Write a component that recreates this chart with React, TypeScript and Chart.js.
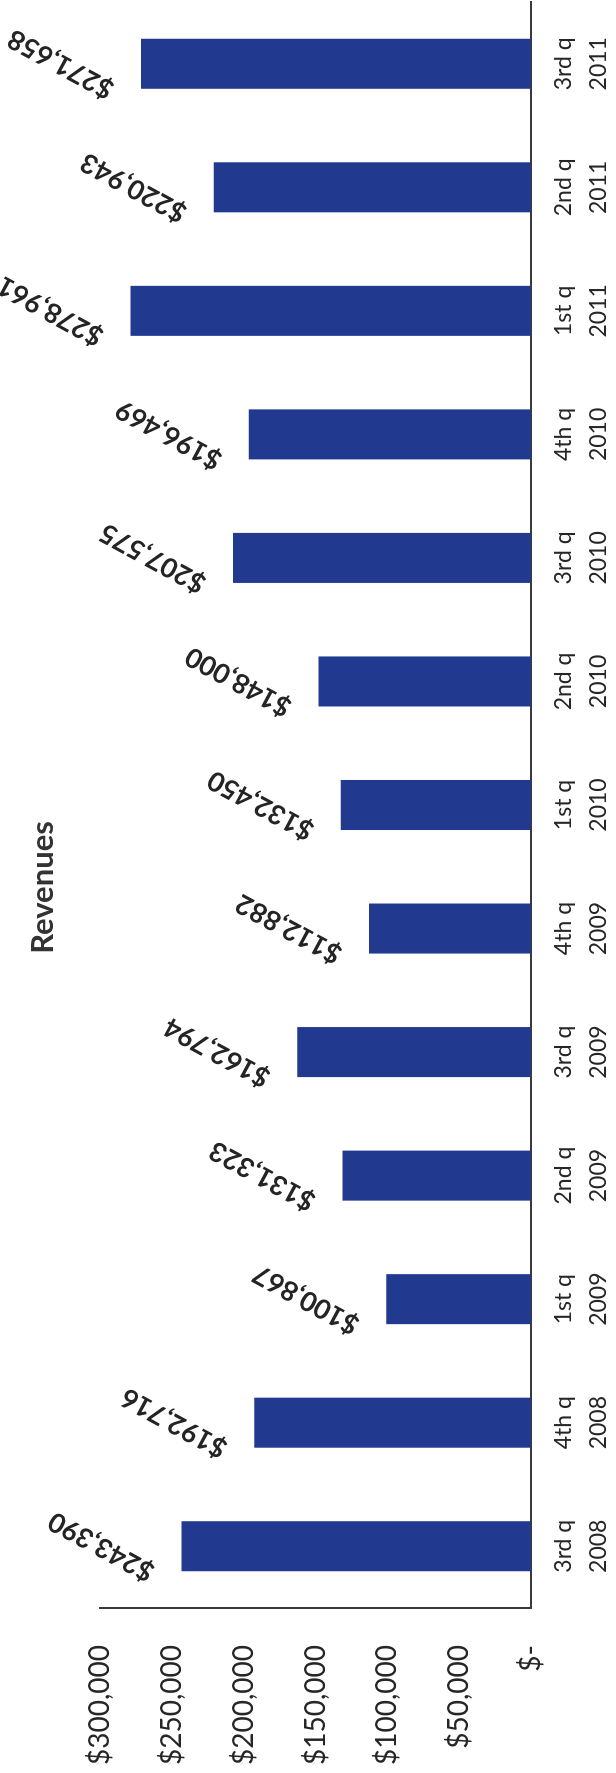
import React, { useEffect, useRef } from 'react';
import { Chart, registerables } from 'chart.js';

Chart.register(...registerables);

const chartTitle = 'Revenues';
const quarters = ['3rd q', '4th q', '1st q', '2nd q', '3rd q', '4th q', '1st q', '2nd q', '3rd q', '4th q', '1st q', '2nd q', '3rd q'];
const years = ['2008', '2008', '2009', '2009', '2009', '2009', '2010', '2010', '2010', '2010', '2011', '2011', '2011'];
const revenues = [243390, 192716, 100867, 131323, 162794, 112882, 132450, 148000, 207575, 196469, 278961, 220943, 271658];
const valueTicks = [0, 50000, 100000, 150000, 200000, 250000, 300000];

const W = 1773;
const H = 616;
const FONT = 'Lato, "Open Sans", sans-serif';

function fmt(v: number): string {
  return v === 0 ? '$-' : '$' + v.toLocaleString('en-US');
}

const dataLabelPlugin = {
  id: 'dataLabelPlugin',
  afterDatasetsDraw(chart: any) {
    const ctx = chart.ctx;
    const meta = chart.getDatasetMeta(0);
    const values = chart.data.datasets[0].data as number[];
    ctx.save();
    ctx.font = `bold 27px ${FONT}`;
    ctx.fillStyle = '#242424';
    ctx.textAlign = 'center';
    ctx.textBaseline = 'middle';
    meta.data.forEach((el: any, i: number) => {
      ctx.save();
      ctx.translate(el.x, el.y - 80);
      ctx.rotate((-61.5 * Math.PI) / 180);
      ctx.fillText(fmt(values[i]), 0, 0);
      ctx.restore();
    });
    ctx.restore();
  },
};

export default function App() {
  const ref = useRef<HTMLCanvasElement>(null);

  useEffect(() => {
    if (!ref.current) return;
    const chart = new Chart(ref.current, {
      type: 'bar',
      data: {
        labels: quarters.map((q, i) => [q, years[i]]),
        datasets: [
          {
            data: revenues,
            backgroundColor: '#213a8f',
            borderWidth: 0,
            barPercentage: 0.405,
            categoryPercentage: 1,
          },
        ],
      },
      options: {
        responsive: false,
        maintainAspectRatio: false,
        animation: false,
        devicePixelRatio: 1,
        layout: { padding: { top: 0, right: 2, bottom: 0, left: 0 } },
        plugins: {
          legend: { display: false },
          tooltip: { enabled: false },
          title: {
            display: true,
            text: chartTitle,
            color: '#333333',
            font: { family: FONT, size: 31, weight: 'bold', lineHeight: 1.2 },
            padding: { top: 24, bottom: 39 },
          },
        },
        scales: {
          x: {
            grid: { display: false, drawTicks: false },
            border: { display: true, color: '#3a3a3a', width: 2 },
            ticks: {
              color: '#262626',
              font: { family: FONT, size: 23, lineHeight: 1.52 },
              padding: 15,
              maxRotation: 0,
              minRotation: 0,
              autoSkip: false,
            },
            afterFit: (scale: any) => {
              scale.height = 85;
            },
          },
          y: {
            min: 0,
            max: 300000,
            grid: { display: false, drawTicks: false },
            border: { display: true, color: '#3a3a3a', width: 2 },
            afterBuildTicks: (scale: any) => {
              scale.ticks = valueTicks.map((v) => ({ value: v }));
            },
            ticks: {
              color: '#262626',
              font: { family: FONT, size: 28 },
              padding: 37,
              callback: (v: any) => fmt(Number(v)),
            },
            afterFit: (scale: any) => {
              scale.width = 165;
            },
          },
        },
      },
      plugins: [dataLabelPlugin],
    });
    return () => chart.destroy();
  }, []);

  return (
    <div
      style={{
        position: 'absolute',
        left: 0,
        top: 0,
        width: 616,
        height: 1773,
        overflow: 'hidden',
        background: '#ffffff',
      }}
    >
      <canvas
        ref={ref}
        width={W}
        height={H}
        style={{
          position: 'absolute',
          left: 0,
          top: 0,
          width: W,
          height: H,
          transformOrigin: '0 0',
          transform: `translate(0px, ${W}px) rotate(-90deg)`,
        }}
      />
    </div>
  );
}
